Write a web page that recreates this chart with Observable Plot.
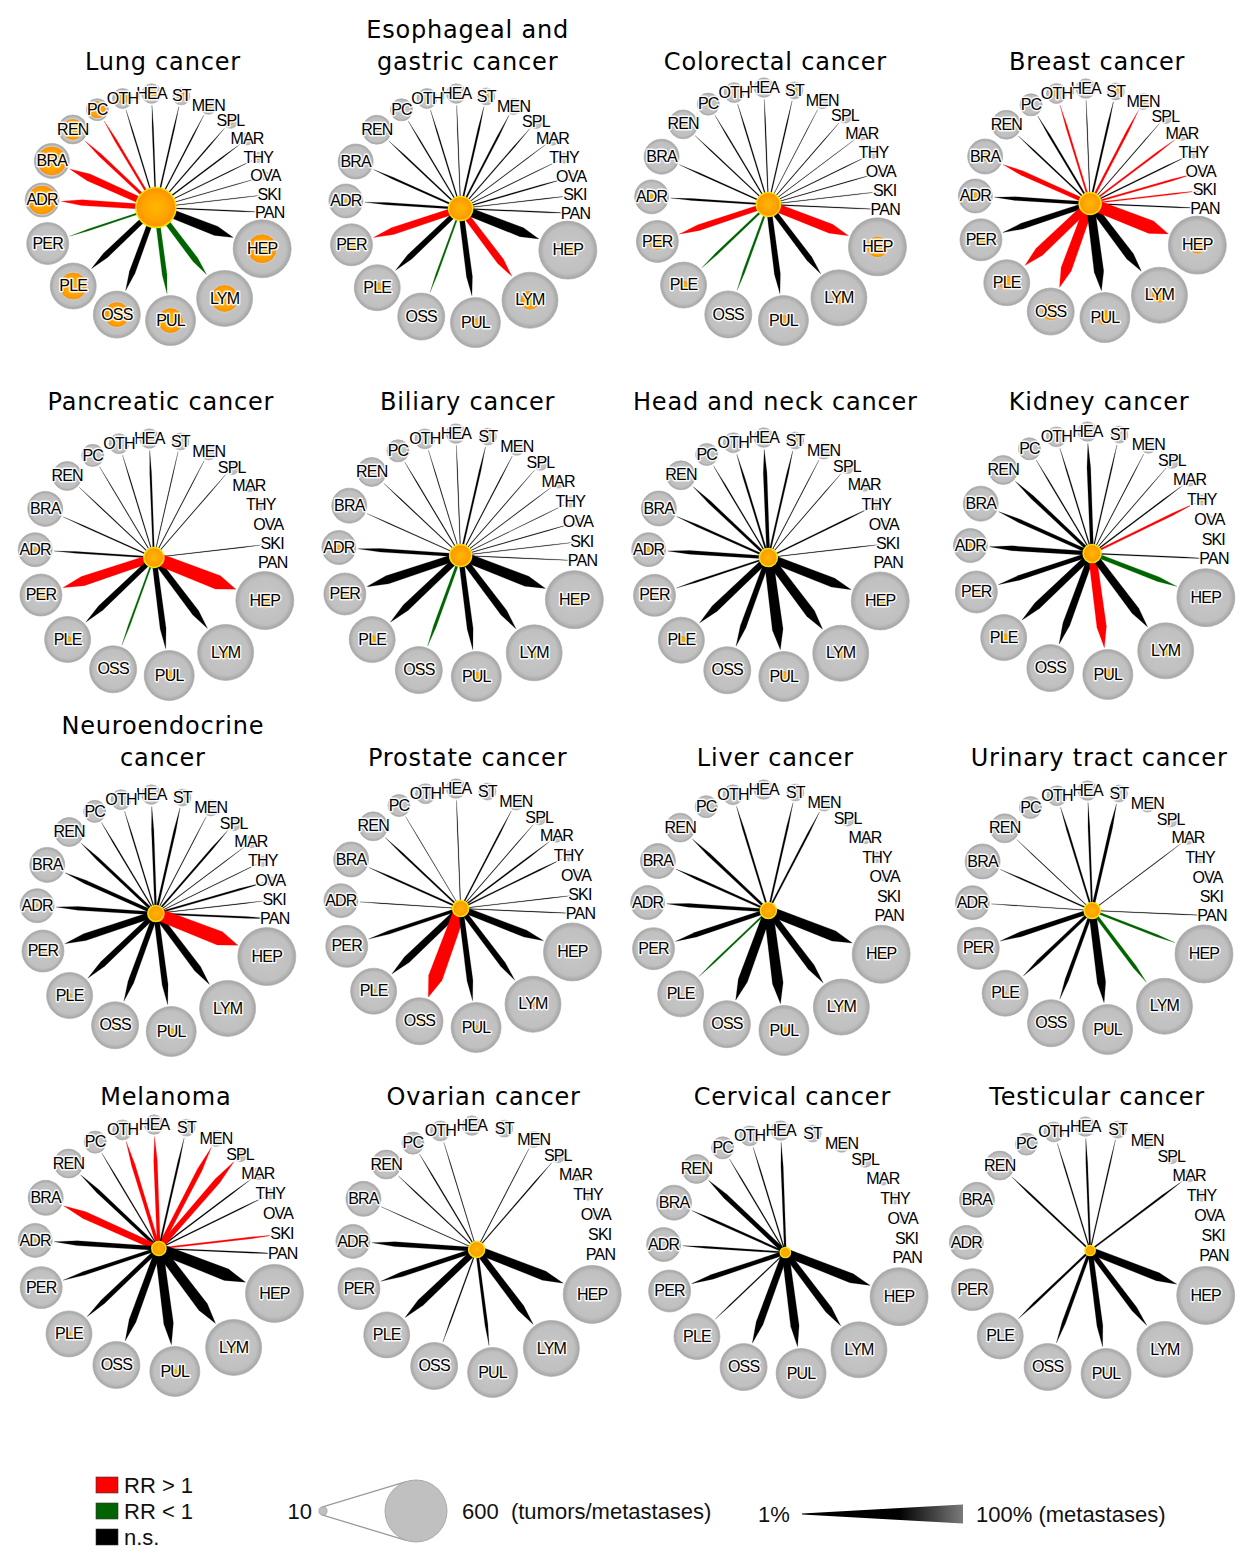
<!DOCTYPE html>
<html><head><meta charset="utf-8">
<script src="https://cdn.jsdelivr.net/npm/d3@7"></script>
<script src="https://cdn.jsdelivr.net/npm/@observablehq/plot@0.6"></script>
<style>
body{margin:0;background:#fff;}
#chart{width:1243px;}
g[font-size="24"]{letter-spacing:0.8px;}
g[font-size="16"]{letter-spacing:-0.8px;}
</style></head><body>
<svg width="0" height="0" style="position:absolute">
<defs>
<radialGradient id="grayGrad" cx="50%" cy="50%" r="50%">
<stop offset="0%" stop-color="#c8c8c8"/><stop offset="82%" stop-color="#c0c0c0"/><stop offset="100%" stop-color="#a4a4a4"/>
</radialGradient>
<radialGradient id="orangeGrad" cx="50%" cy="50%" r="50%">
<stop offset="0%" stop-color="#ffb800"/><stop offset="65%" stop-color="#ffa300"/><stop offset="100%" stop-color="#ff9000"/>
</radialGradient>
</defs></svg>
<div id="chart"></div>
<script>
// ---------------- data ----------------
const sites = ["PAN","SKI","OVA","THY","MAR","SPL","MEN","ST","HEA","OTH","PC","REN","BRA","ADR","PER","PLE","OSS","PUL","LYM","HEP"];
const siteTotals = [3,6,10,16,22,31,40,45,59,62,76,131,191,180,275,330,345,390,489,525];
const cancers = ["Lung cancer","Esophageal and\ngastric cancer","Colorectal cancer","Breast cancer",
  "Pancreatic cancer","Biliary cancer","Head and neck cancer","Kidney cancer",
  "Neuroendocrine\ncancer","Prostate cancer","Liver cancer","Urinary tract cancer",
  "Melanoma","Ovarian cancer","Cervical cancer","Testicular cancer"];
const tumorCounts = [250,90,90,75,62,75,50,50,40,40,40,40,31,40,16,16];
// metastases per site (orange node), order as in `sites`
const metCounts = [
  [1,1,3,6,10,10,6,16,22,22,51,75,140,140,16,122,105,105,122,140],
  [1,0,1,1,1,3,3,6,3,6,6,6,3,4,40,22,8,16,62,31],
  [1,1,1,1,0,1,1,6,3,6,6,6,3,6,51,16,6,22,31,75],
  [1,3,6,3,6,3,10,10,1,10,6,6,16,10,22,40,51,40,40,51],
  [0,1,0,0,0,1,3,1,3,3,1,3,3,6,22,10,10,22,22,40],
  [0,0,0,0,1,1,3,3,3,3,1,3,1,6,10,16,10,16,22,31],
  [0,1,0,3,0,1,1,6,6,6,1,6,3,6,3,16,10,22,22,16],
  [0,0,0,6,3,0,1,3,6,3,1,6,3,6,6,16,10,22,16,6],
  [1,1,1,1,1,3,1,3,3,1,3,3,1,3,6,6,10,10,10,22],
  [0,0,0,1,3,3,1,0,0,0,0,1,1,0,3,6,22,6,6,3],
  [0,0,0,0,0,0,1,3,0,1,0,3,1,1,10,3,16,10,6,10],
  [0,0,0,0,1,0,0,3,1,1,0,1,1,0,6,3,6,10,6,3],
  [1,3,0,1,1,10,6,3,6,3,1,6,6,3,3,6,6,6,10,10],
  [0,0,0,0,0,0,0,0,0,1,1,1,0,1,3,3,0,3,3,6],
  [0,0,0,0,0,0,0,0,1,1,1,3,0,0,1,1,3,3,3,3],
  [0,0,0,0,1,0,0,1,1,1,0,1,0,0,0,1,1,3,1,3]
];
// share of metastases (%) carried by each edge
const metPct = [
  [4,3,3,4,5,5,5,6,6,5,10,14,32,26,8,26,26,21,26,42],
  [5,3,5,3,3,5,8,8,3,5,5,6,8,10,32,26,8,26,32,42],
  [4,3,3,3,2,3,2,5,4,5,5,5,6,8,26,10,10,26,26,42],
  [4,6,8,5,8,3,10,8,3,8,8,6,21,16,26,42,47,42,37,58],
  [0,3,0,0,0,3,3,3,8,4,3,4,5,8,42,26,8,26,32,63],
  [3,3,3,2,3,3,4,8,3,3,4,4,4,16,37,32,13,26,32,47],
  [0,3,0,6,0,3,3,8,16,8,5,13,10,16,8,32,26,47,42,42],
  [5,0,0,10,5,3,3,5,16,5,5,16,16,21,21,32,32,42,37,21],
  [8,3,8,3,3,8,3,10,10,5,5,13,16,16,32,26,26,26,32,63],
  [3,3,0,6,6,3,6,0,3,0,2,8,8,3,16,32,63,26,26,32],
  [0,0,0,0,0,0,8,8,0,8,0,13,10,16,21,8,42,47,32,47],
  [3,0,0,0,3,0,0,13,8,8,0,3,6,3,21,16,16,37,16,10],
  [5,8,0,5,5,26,21,8,16,16,5,16,32,21,16,21,32,42,47,53],
  [0,0,0,0,0,5,3,0,0,3,5,5,3,21,21,32,5,13,32,42],
  [0,0,0,0,0,0,0,0,10,5,5,21,10,8,21,5,32,37,32,42],
  [0,0,0,0,8,0,0,5,8,5,0,8,0,0,0,10,16,26,26,37]
];
// relative risk: "+" RR>1, "-" RR<1, "0" n.s.
const relRisk = [
  "0000000000++++-00--0",
  "00000000000000+0-0+0",
  "00000000000000+--00+",
  "0++0+0+00+00+00++00+",
  "00000000000000+0-00+",
  "0000000000000000-000",
  "00000000000000000000",
  "000+0000000000000+0-",
  "0000000000000000000+",
  "0000000000000000+000",
  "000000000000000-0000",
  "000000000000000000--",
  "0+000++0++00+0000000",
  "00000000000000000000",
  "00000000000000000000",
  "00000000000000000000"
];
const rrKeys = ["+","-","0"];
const rrLabels = ["RR > 1","RR < 1","n.s."];
const rrColors = ["#ff0000","#006400","#000000"];

// ---------------- layout ----------------
const W = 1243, H = 1440, rowH = 348, top0 = 206;
const panelRadius = [114,115,117,115, 119,122,120,122, 119,120,121,120, 124,124,122,124];
const panelShift = [[0,1],[-6,2],[-9,-2],[2,-3],[-2,3],[-6,1],[-9,3],[4,-1],
                    [0,11],[-6,6],[-9,8],[4,8],[3,-2],[10,-1],[8,2],[2,0]];
const rowTitleY = [-137,-145,-137,-146];
const col = d3.scaleBand().domain([0,1,2,3]).range([0,W]);
const rPx = d3.scaleSqrt().domain([0,600]).range([0,31]);
const widthPerPct = 0.19;

// angular spacing from node sizes (labels need more room where neighbours sit side by side)
const n = sites.length;
const gr = siteTotals.map(rPx);
let angle = sites.map((s, i) => 2*Math.PI*i/n);
for (let it = 0; it < 4; it++) {
  const dist = sites.map((s, i) => {
    const mid = angle[i] + ((i === n - 1 ? 2*Math.PI : angle[i + 1]) - angle[i]) / 2;
    return Math.max(gr[i] + gr[(i + 1) % n] + 6, 18 + 12*Math.sin(mid)**2);
  });
  const tot = d3.sum(dist);
  let acc = 0;
  angle = dist.map(d => { const a = acc/tot*2*Math.PI; acc += d; return a; });
}
angle = angle.map(a => a - 2.5*Math.PI/180);

const nodes = [], edgePts = [], centers = [], titles = [];
cancers.forEach((name, p) => {
  const c = p % 4, r = Math.floor(p / 4);
  const R = panelRadius[p];
  const cx = col(c) + col.bandwidth()/2 + panelShift[p][0];
  const cy = top0 + rowH*r + panelShift[p][1];
  centers.push({x: cx, y: cy, n: tumorCounts[p]});
  titles.push({x: cx + 7, y: top0 + rowH*r + rowTitleY[r], text: name});
  sites.forEach((s, i) => {
    const ux = Math.cos(angle[i]), uy = -Math.sin(angle[i]);
    nodes.push({x: cx + R*ux, y: cy + R*uy, site: s, total: siteTotals[i], met: Math.min(metCounts[p][i], siteTotals[i])});
    const pct = metPct[p][i];
    if (pct > 0) {
      const w = pct*widthPerPct, L = R - gr[i] - 2, vx = -uy, vy = ux;
      [[0, w/2],[0.78*L, 0.6*w],[L, 0],[0.78*L, -0.6*w],[0, -w/2]].forEach(([t, o]) =>
        edgePts.push({id: p*100 + i, rr: relRisk[p][i], x: cx + ux*t + vx*o, y: cy + uy*t + vy*o}));
    }
  });
});

const chart = Plot.plot({
  width: W, height: H,
  marginLeft: 0, marginRight: 0, marginTop: 0, marginBottom: 0,
  x: {domain: [0, W], range: [0, W], axis: null},
  y: {domain: [0, H], range: [0, H], axis: null},
  r: {type: "sqrt", domain: [0, 600], range: [0, 31]},
  color: {domain: rrKeys, range: rrColors},
  marks: [
    Plot.dot(nodes, {x: "x", y: "y", r: "total", fill: "url(#grayGrad)", stroke: "#acacac", strokeWidth: 1, strokeOpacity: 0.7}),
    Plot.dot(nodes, {x: "x", y: "y", r: "met", fill: "url(#orangeGrad)", stroke: "#bcd6f4", strokeWidth: 1}),
    Plot.line(edgePts, {x: "x", y: "y", z: "id", fill: "rr", stroke: "rr", strokeWidth: 0.2, curve: "linear-closed"}),
    Plot.text(nodes, {x: "x", y: "y", text: "site", fontSize: 16, fontFamily: "'Liberation Sans', Arial, sans-serif",
      fill: "#000", stroke: "#fff", strokeWidth: 3, strokeOpacity: 0.9, paintOrder: "stroke"}),
    Plot.dot(centers, {x: "x", y: "y", r: "n", fill: "url(#orangeGrad)", stroke: "#f2e200", strokeWidth: 1.6}),
    Plot.text(titles, {x: "x", y: "y", text: "text", fontSize: 24, fontFamily: "'DejaVu Sans', sans-serif",
      fill: "#000", lineAnchor: "bottom", lineHeight: 1.33})
  ]
});
document.getElementById("chart").appendChild(chart);

// ---------------- legend ----------------
const leg = d3.create("svg").attr("width", W).attr("height", 118).style("display", "block")
  .attr("font-family", "'Liberation Sans', Arial, sans-serif").attr("font-size", 22).attr("fill", "#111");
const lg = leg.append("defs").append("linearGradient").attr("id", "wedgeGrad");
lg.append("stop").attr("offset", "0%").attr("stop-color", "#000");
lg.append("stop").attr("offset", "60%").attr("stop-color", "#000");
lg.append("stop").attr("offset", "100%").attr("stop-color", "#7a7a7a");
rrKeys.forEach((k, j) => {
  const cy = 45 + 26*j;
  leg.append("rect").attr("x", 96).attr("y", cy - 8).attr("width", 22).attr("height", 16)
    .attr("fill", rrColors[j]).attr("stroke", "#333").attr("stroke-width", 0.6);
  leg.append("text").attr("x", 124).attr("y", cy).attr("dy", "0.36em").text(rrLabels[j]);
});
// size legend
{
  const y0 = 71, x1 = 323, x2 = 416, r1 = rPx(10), r2 = rPx(600);
  const d = x2 - x1, s = (r2 - r1)/d, cs = Math.sqrt(1 - s*s);
  [-1, 1].forEach(sg => {
    leg.append("line").attr("x1", x1 - r1*s).attr("y1", y0 + sg*r1*cs).attr("x2", x2 - r2*s).attr("y2", y0 + sg*r2*cs)
      .attr("stroke", "#9a9a9a").attr("stroke-width", 1.3);
  });
  leg.append("circle").attr("cx", x1).attr("cy", y0).attr("r", r1).attr("fill", "#c0c0c0").attr("stroke", "#aaa");
  leg.append("circle").attr("cx", x2).attr("cy", y0).attr("r", r2).attr("fill", "#c0c0c0").attr("stroke", "#aaa");
  leg.append("text").attr("x", 312).attr("y", y0).attr("dy", "0.36em").attr("text-anchor", "end").text("10");
  leg.append("text").attr("x", 462).attr("y", y0).attr("dy", "0.36em").style("white-space", "pre").text("600  (tumors/metastases)");
}
// width legend
{
  const y0 = 74, xa = 802, xb = 963, hw = 100*widthPerPct/2;
  leg.append("polygon").attr("points", `${xa},${y0-0.4} ${xb},${y0-hw} ${xb},${y0+hw} ${xa},${y0+0.4}`).attr("fill", "url(#wedgeGrad)");
  leg.append("text").attr("x", 758).attr("y", y0).attr("dy", "0.36em").text("1%");
  leg.append("text").attr("x", 976).attr("y", y0).attr("dy", "0.36em").text("100% (metastases)");
}
document.getElementById("chart").appendChild(leg.node());
</script>
</body></html>
